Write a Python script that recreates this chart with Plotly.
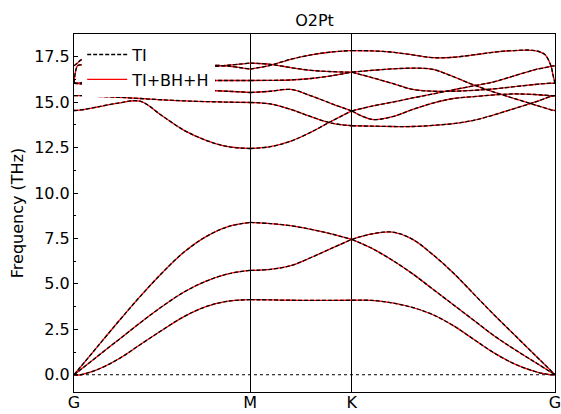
import plotly.graph_objects as go

# ---- path (reciprocal-space distances of the high-symmetry segments) ----
labels = ["G", "M", "K", "G"]
seg_len = [0.5774, 0.3333, 0.6667]

# fractional positions of the sampled points along each segment
frac_GM = [0, 0.02, 0.04, 0.125, 0.25, 0.375, 0.5, 0.625, 0.75, 0.875, 1.0]
frac_MK = [0, 0.2, 0.4, 0.6, 0.8, 1.0]
frac_KG = [0, 0.1, 0.2, 0.3, 0.4, 0.5, 0.6, 0.7, 0.8, 0.9, 0.95, 0.98, 0.99, 1.0]

# ---- frequencies (THz); one list per band and segment ----
ZA_GM = [0, -0.02, 0.0, 0.25, 0.85, 1.65, 2.45, 3.2, 3.75, 4.05, 4.13]
ZA_MK = [4.13, 4.12, 4.1, 4.09, 4.09, 4.1]
ZA_KG = [4.1, 4.09, 3.95, 3.7, 3.3, 2.7, 1.95, 1.2, 0.6, 0.18, 0.05, 0.0, 0.0, 0]

TA_GM = [0, 0.15, 0.3, 0.95, 1.9, 2.85, 3.75, 4.55, 5.15, 5.55, 5.74]
TA_MK = [5.74, 5.8, 6.0, 6.45, 6.95, 7.45]
TA_KG = [7.45, 6.95, 6.3, 5.55, 4.7, 3.85, 3.0, 2.15, 1.4, 0.7, 0.35, 0.14, 0.07, 0]

LA_GM = [0, 0.23, 0.46, 1.45, 2.9, 4.3, 5.6, 6.75, 7.6, 8.15, 8.38]
LA_MK = [8.38, 8.32, 8.2, 8.0, 7.75, 7.45]
LA_KG = [7.45, 7.75, 7.85, 7.45, 6.6, 5.6, 4.45, 3.3, 2.2, 1.1, 0.55, 0.22, 0.11, 0]

O1_GM = [14.54, 14.55, 14.57, 14.72, 14.95, 15.05, 14.25, 13.45, 12.9, 12.55, 12.45]
O1_MK = [12.45, 12.55, 12.85, 13.35, 13.95, 14.52]
O1_KG = [14.52, 14.05, 14.2, 14.6, 14.95, 15.2, 15.3, 15.4, 15.45, 15.42, 15.38, 15.36, 15.36, 15.36]

O2_GM = [15.36, 15.36, 15.36, 15.32, 15.27, 15.2, 15.13, 15.07, 15.03, 15.0, 14.98]
O2_MK = [14.98, 14.9, 14.6, 14.2, 13.85, 13.70]
O2_KG = [13.70, 13.68, 13.66, 13.66, 13.72, 13.82, 14.0, 14.3, 14.65, 15.0, 15.2, 15.32, 15.35, 15.36]

O3_GM = [16.04, 16.02, 16.0, 15.95, 15.9, 15.82, 15.75, 15.7, 15.65, 15.6, 15.53]
O3_MK = [15.53, 15.6, 15.7, 15.35, 14.92, 14.52]
O3_KG = [14.52, 14.78, 15.0, 15.23, 15.45, 15.68, 15.9, 16.12, 16.45, 16.78, 16.9, 16.97, 16.99, 17.0]

O4_GM = [16.04, 16.05, 16.06, 16.1, 16.12, 16.15, 16.17, 16.18, 16.19, 16.19, 16.19]
O4_MK = [16.19, 16.2, 16.22, 16.3, 16.45, 16.65]
O4_KG = [16.65, 16.35, 16.03, 15.7, 15.6, 15.6, 15.65, 15.73, 15.85, 15.97, 16.02, 16.04, 16.04, 16.04]

O5_GM = [16.04, 17.0, 17.05, 17.0, 16.95, 16.92, 16.9, 16.9, 16.93, 17.03, 17.15]
O5_MK = [17.15, 17.08, 16.9, 16.75, 16.68, 16.65]
O5_KG = [16.65, 16.75, 16.83, 16.87, 16.8, 16.4, 15.95, 15.55, 15.2, 14.85, 14.68, 14.58, 14.56, 14.54]

O6_GM = [17.0, 17.15, 17.33, 17.4, 17.35, 17.25, 17.15, 17.08, 17.05, 16.98, 16.82]
O6_MK = [16.82, 17.03, 17.36, 17.6, 17.76, 17.84]
O6_KG = [17.84, 17.82, 17.75, 17.6, 17.45, 17.47, 17.6, 17.75, 17.84, 17.84, 17.62, 17.0, 16.5, 16.04]

bands = [
    (ZA_GM, ZA_MK, ZA_KG), (TA_GM, TA_MK, TA_KG), (LA_GM, LA_MK, LA_KG),
    (O1_GM, O1_MK, O1_KG), (O2_GM, O2_MK, O2_KG), (O3_GM, O3_MK, O3_KG),
    (O4_GM, O4_MK, O4_KG), (O5_GM, O5_MK, O5_KG), (O6_GM, O6_MK, O6_KG),
]

series = [
    dict(name="TI+BH+H", color="#ff0000", dash="solid", rank=2),
    dict(name="TI", color="#000000", dash="4px,2px", rank=1),
]

# segment start positions
starts = [0.0, seg_len[0], seg_len[0] + seg_len[1]]
tick_pos = [0.0, starts[1], starts[2], starts[2] + seg_len[2]]
fracs = [frac_GM, frac_MK, frac_KG]

fig = go.Figure()
for s in series:
    first = True
    for band in bands:
        for i, vals in enumerate(band):
            xs = [starts[i] + f * seg_len[i] for f in fracs[i]]
            fig.add_trace(go.Scatter(
                x=xs, y=vals, mode="lines",
                line=dict(color=s["color"], width=1.3, dash=s["dash"],
                          shape="spline", smoothing=1.0),
                name=s["name"], legendgroup=s["name"], showlegend=first,
                legendrank=s["rank"], hoverinfo="skip",
            ))
            first = False

fig.add_shape(type="line", xref="paper", yref="y", x0=0, x1=1, y0=0, y1=0,
              line=dict(color="black", width=1, dash="dot"), layer="below")

font = "DejaVu Sans"
fig.update_layout(
    width=561, height=414,
    margin=dict(l=74, r=6, t=34, b=22, autoexpand=False),
    paper_bgcolor="white", plot_bgcolor="white",
    font=dict(family=font, size=16, color="black"),
    title=dict(text="O2Pt", x=0.5, xref="paper", xanchor="center",
               y=1 - 20 / 414, yref="container", yanchor="middle",
               font=dict(family=font, size=16, color="black")),
    legend=dict(x=0.017, y=0.99, xanchor="left", yanchor="top",
                bgcolor="white", bordercolor="white", borderwidth=0,
                font=dict(family=font, size=16), traceorder="grouped",
                tracegroupgap=1, itemwidth=40),
    showlegend=True,
)
fig.update_xaxes(
    range=[0, tick_pos[-1]], tickvals=tick_pos, ticktext=labels,
    showgrid=True, gridcolor="black", gridwidth=1, zeroline=False,
    showline=True, linecolor="black", linewidth=1, mirror=True,
    ticks="", tickfont=dict(size=16), automargin=False,
    ticklabeloverflow="allow", ticklabelstandoff=-4,
)
fig.update_yaxes(
    range=[-0.95, 18.75], dtick=2.5, tick0=0, tickformat=".1f",
    title=dict(text="Frequency (THz)", font=dict(size=16), standoff=6),
    showgrid=False, zeroline=False, automargin=False,
    showline=True, linecolor="black", linewidth=1, mirror=True,
    ticks="inside", ticklen=4, tickcolor="black",
    minor=dict(dtick=1.25, ticks="inside", ticklen=2, tickcolor="black"),
    tickfont=dict(size=16),
)

fig.write_html("out.html")
